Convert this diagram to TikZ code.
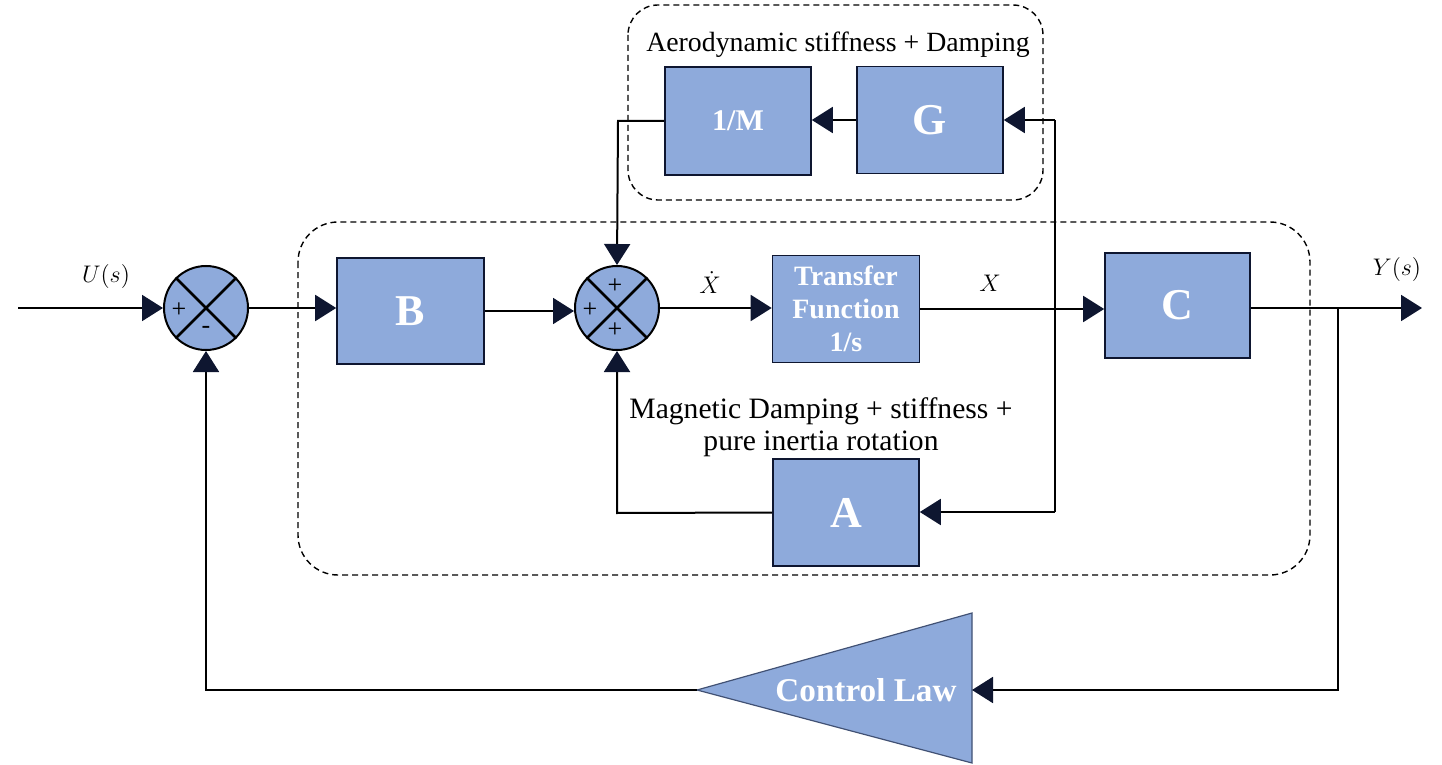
\documentclass[tikz,border=0pt]{standalone}
\usepackage{fontspec}
\setmainfont{Liberation Serif}
\usetikzlibrary{arrows.meta,calc}
\definecolor{boxblue}{RGB}{142,170,219}
\definecolor{navy}{RGB}{14,22,48}
\begin{document}
\begin{tikzpicture}[x=0.5pt,y=-0.5pt,
  blk/.style={draw=navy, line width=0.8pt, fill=boxblue, text=white, font=\bfseries, inner sep=0pt, align=center},
  sumj/.style={circle, draw=black, line width=1pt, fill=boxblue, minimum size=42pt, inner sep=0pt},
  wire/.style={line width=1pt, black},
  arr/.style={wire, -{Triangle[length=10.5pt,width=13pt,color=navy]}},
  grp/.style={draw=black, line width=0.7pt, dash pattern=on 3pt off 2pt},
  lbl/.style={font=\fontsize{13.9}{16}\selectfont, inner sep=0pt, align=center},
  sgn/.style={font=\fontsize{13}{14}\selectfont, inner sep=0pt}]
\useasboundingbox (0,0) rectangle (1442,765);
% dashed groups
\draw[grp, rounded corners=15pt] (628,5) rectangle (1043,200);
\draw[grp, rounded corners=20pt] (298,222) rectangle (1310,575);
% blocks
\node[blk, minimum width=73.5pt, minimum height=53pt, font=\bfseries\fontsize{22}{24}\selectfont] (B) at (410.5,311) {B};
\node[blk, minimum width=73.5pt, minimum height=53.5pt, font=\bfseries\fontsize{14}{16.5}\selectfont] (TF) at (846,309) {Transfer\\Function\\1/s};
\node[blk, minimum width=72.5pt, minimum height=52.5pt, font=\bfseries\fontsize{22}{24}\selectfont] (C) at (1177.5,305.5) {C};
\node[blk, minimum width=73pt, minimum height=53.5pt, font=\bfseries\fontsize{22}{24}\selectfont] (A) at (846,512.5) {A};
\node[blk, minimum width=73pt, minimum height=53.5pt, font=\bfseries\fontsize{22}{24}\selectfont] (G) at (930,120) {G};
\node[blk, minimum width=73pt, minimum height=54pt, font=\bfseries\fontsize{15}{17}\selectfont] (M) at (738,121) {1/M};
% summing junctions
\node[sumj] (s1) at (206,308) {};
\draw[line width=1.3pt] (s1.north west) -- (s1.south east) (s1.north east) -- (s1.south west);
\node[sgn] (s1a) at (179,310) {+};
\node[sgn] (s1b) at (206,330) {-};
\node[sumj] (s2) at (617,308) {};
\draw[line width=1.3pt] (s2.north west) -- (s2.south east) (s2.north east) -- (s2.south west);
\node[sgn] (s2a) at (615,286) {+};
\node[sgn] (s2b) at (590,310) {+};
\node[sgn] (s2c) at (615,330) {+};
% control law triangle
\coordinate (clt) at (972,613);
\coordinate (clb) at (972,763);
\coordinate (cla) at (697,690);
\coordinate (cle) at (972,690);
\draw[draw=navy!60!boxblue, line width=0.6pt, fill=boxblue] (clt) -- (clb) -- (cla) -- cycle;
\node[font=\bfseries\fontsize{16.6}{18}\selectfont, text=white, inner sep=0pt] (cl) at (866,690) {Control Law};
% labels
\node[lbl] (aero) at (838,45) {Aerodynamic stiffness + Damping};
\node[lbl, font=\fontsize{14.8}{16}\selectfont] (mag) at (821,427) {Magnetic Damping + stiffness +\\pure inertia rotation};
\node[inner sep=0pt, font=\fontsize{12.5}{14}\selectfont] (U) at (106,277) {$U(s)$};
\node[inner sep=0pt, font=\fontsize{12.5}{14}\selectfont] (Y) at (1397,270) {$Y(s)$};
\node[inner sep=0pt, font=\fontsize{12}{13}\selectfont] (Xd) at (710,283) {$\dot{X}$};
\node[inner sep=0pt, font=\fontsize{12}{13}\selectfont] (Xl) at (990,283) {$X$};
% coordinates
\coordinate (in) at (18,308);
\coordinate (yout) at (1422,308);
\coordinate (br) at (1338,308);
\coordinate (brd) at (1338,690);
\coordinate (fbl) at (206,690);
\coordinate (xt) at (1055,120);
\coordinate (xbt) at (1055,512);
\coordinate (ml) at (618,121);
\coordinate (al) at (617,513);
% connectors
\draw[arr] (in) -- (s1.west);
\draw[arr] (s1.east) -- (s1.east -| B.west);
\draw[arr] (B.east) -- (B.east -| s2.west);
\draw[arr] (s2.east) -- (s2.east -| TF.west);
\draw[arr] (TF.east) -- (TF.east -| C.west);
\draw[arr] (C.east |- yout) -- (yout);
\draw[arr] (br) -- (brd) -- (cle);
\draw[arr] (cla) -- (fbl) -- (s1.south);
\draw[wire] (xt) -- (xbt);
\draw[arr] (xt) -- (xt -| G.east);
\draw[arr] (G.west) -- (G.west -| M.east);
\draw[arr] (M.west) -- (ml) -- (s2.north);
\draw[arr] (xbt) -- (xbt -| A.east);
\draw[arr] (A.west) -- (al) -- (s2.south);
\end{tikzpicture}
\end{document}
